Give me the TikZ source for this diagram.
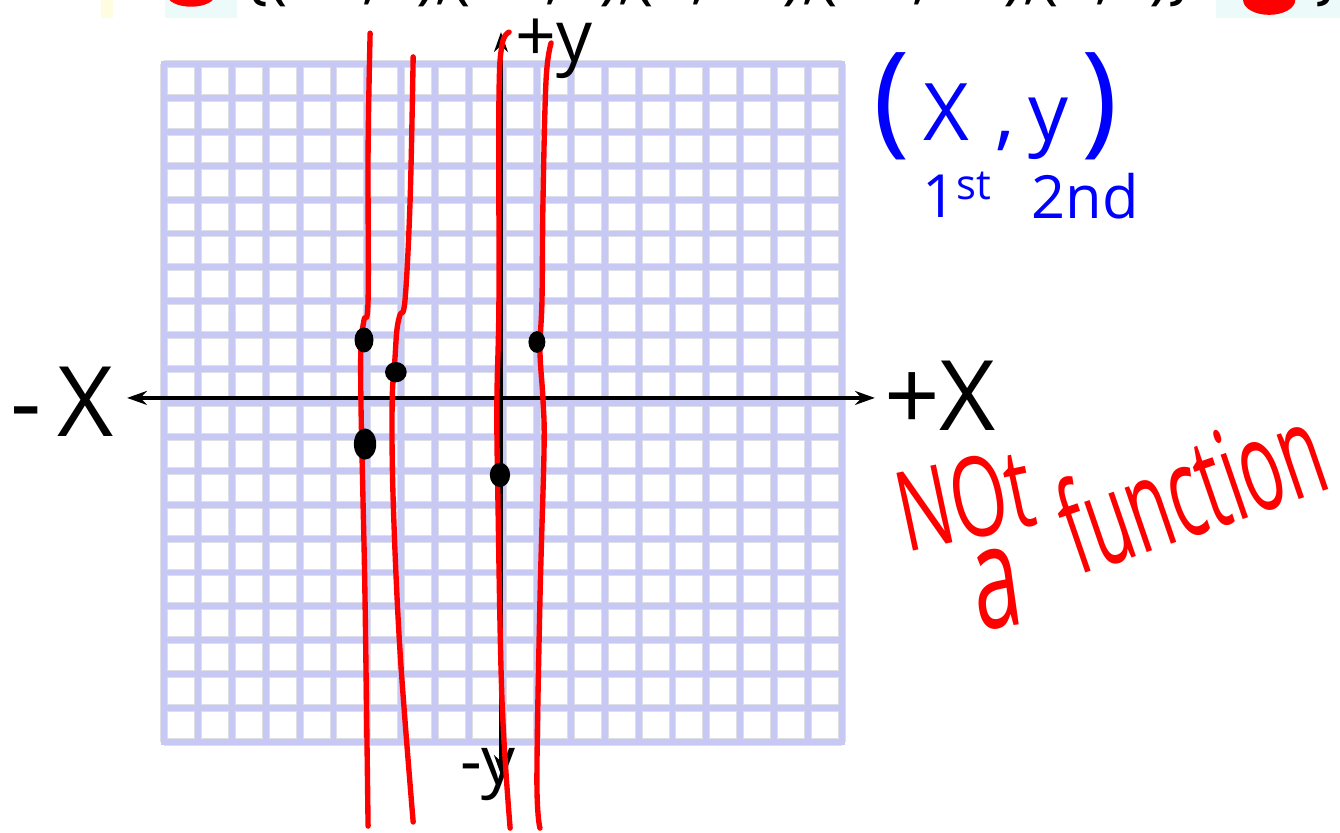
\documentclass[tikz,border=0pt]{standalone}
\usepackage{fontspec}
\newfontfamily\handfont{Open Sans}
\usetikzlibrary{arrows.meta,positioning}
\definecolor{gridblue}{RGB}{200,200,245}
\definecolor{gridedge}{RGB}{222,222,230}
\definecolor{inkred}{RGB}{255,0,0}
\definecolor{inkblue}{RGB}{0,0,255}
\definecolor{paleback}{RGB}{236,250,250}

\begin{document}
\begin{tikzpicture}[x=0.6cm,y=0.6cm,
  hand/.style={font=\handfont,inner sep=0pt},
  redline/.style={draw=inkred,line width=2.7pt,line cap=round,line join=round},
  axis/.style={line width=1.6pt,{Stealth[length=10pt,width=7pt]}-{Stealth[length=10pt,width=7pt]}}]
 \useasboundingbox (-14.838,-12.655) rectangle (24.69,11.888);
 \clip (-14.838,-12.655) rectangle (24.69,11.888);
 % header line, cut off at the top
 \fill[paleback] (-9.98,11.36) rectangle (-7.85,12);
 \fill[yellow!12] (-11.85,11.36) rectangle (-11.5,12);
 \fill[paleback] (21.04,11.36) rectangle (24.69,12);
 \fill[inkred] (-9.20,12.04) ellipse (0.71 and 0.35);
 \fill[inkred] (22.60,11.89) ellipse (0.77 and 0.44);
 \node[hand,font=\handfont\fontsize{33}{35}\selectfont,anchor=base west] (set) at (-7.67,11.98) {\{(−4,2),(−3,1),(0,−2),(−4,−1),(1,2)\}};
 \node[hand,font=\handfont\fontsize{33}{35}\selectfont,anchor=base west] (brace) at (23.95,11.98) {\}};
 % grid
 \foreach \i in {-10,...,10} {
   \draw[gridedge,line width=4pt] (\i,-10) -- (\i,10);
   \draw[gridedge,line width=4pt] (-10,\i) -- (10,\i);
 }
 \foreach \i in {-10,...,10} {
   \draw[gridblue,line width=3pt,line cap=rect] (\i,-10) -- (\i,10);
   \draw[gridblue,line width=3pt,line cap=rect] (-10,\i) -- (10,\i);
 }
 % axes
 \coordinate (xl) at (-11.09,0.15);
 \coordinate (xr) at (10.97,0.15);
 \coordinate (yt) at (-0.06,10.94);
 \coordinate (yb) at (-0.06,-10.97);
 \draw[axis] (xl) -- (xr);
 \draw[axis] (yb) -- (yt);
 \node[hand,font=\handfont\fontsize{49}{50}\selectfont] (xneg) at (-13.01,0.03) {-\,X};
 \node[hand,font=\handfont\fontsize{49}{50}\selectfont] (xpos) at (12.89,0.21) {+X};
 \node[hand,font=\handfont\fontsize{36}{38}\selectfont] (ypos) at (1.50,10.45) {+y};
 \node[hand,font=\handfont\fontsize{34}{36}\selectfont] (yneg) at (-0.44,-10.97) {-y};
 % vertical line test
 \draw[redline] plot[smooth,tension=0.6] coordinates {(-3.92,10.91) (-3.98,7.46) (-3.98,3.04) (-4.10,2.45) (-4.19,1.71) (-4.19,0) (-4.13,-2.86) (-4.07,-5.81) (-3.98,-12.48)};
 \draw[redline] plot[smooth,tension=0.6] coordinates {(-2.65,10.21) (-2.74,5.99) (-2.89,3.04) (-3.04,2.60) (-3.13,2.15) (-3.19,1.27) (-3.27,0) (-3.24,-2.86) (-3.04,-7.29) (-2.65,-12.36)};
 \draw[redline] plot[smooth,tension=0.6] coordinates {(0.18,10.94) (-0.03,10.56) (-0.12,8.94) (-0.12,3.04) (-0.18,0) (-0.15,-2.86) (-0.03,-8.76) (0.21,-12.54)};
 \draw[redline] plot[smooth,tension=0.6] coordinates {(1.42,10.62) (1.27,9.53) (1.18,5.99) (1.15,3.04) (1.09,1.56) (1.18,0.09) (1.21,-1.39) (1.09,-5.81) (1.00,-11.12) (1.09,-12.54)};
 % points
 \fill (-4.10,1.86) ellipse (0.28 and 0.37);
 \fill (-3.16,0.91) ellipse (0.32 and 0.30);
 \fill (-4.07,-1.21) ellipse (0.33 and 0.46);
 \fill (-0.09,-2.12) ellipse (0.30 and 0.36);
 \fill (1.00,1.80) ellipse (0.25 and 0.32);
 % notes
 \node[hand,text=inkblue,font=\handfont\fontsize{40}{42}\selectfont] (pair) at (14.54,8.76) {{\fontsize{62}{62}\selectfont(}\,X\,\,,\,y\,{\fontsize{62}{62}\selectfont)}};
 \node[hand,text=inkblue,font=\handfont\fontsize{30}{32}\selectfont] (first) at (13.40,6.14) {1\textsuperscript{st}};
 \node[hand,text=inkblue,font=\handfont\fontsize{30}{32}\selectfont] (second) at (17.17,6.11) {2nd};
 \node[hand,text=inkred,font=\handfont\fontsize{56}{58}\selectfont,rotate=12] (nott) at (13.62,-2.85) {\scalebox{0.65}[1]{NOt}};
 \node[hand,text=inkred,font=\handfont\fontsize{66}{68}\selectfont,rotate=8] (arti) at (14.57,-5.50) {\scalebox{0.66}[1.1]{a}};
 \node[hand,text=inkred,font=\handfont\fontsize{64}{66}\selectfont,rotate=19,anchor=base] (func) at (20.75,-3.80) {\scalebox{0.55}[1]{function}};
\end{tikzpicture}
\end{document}
